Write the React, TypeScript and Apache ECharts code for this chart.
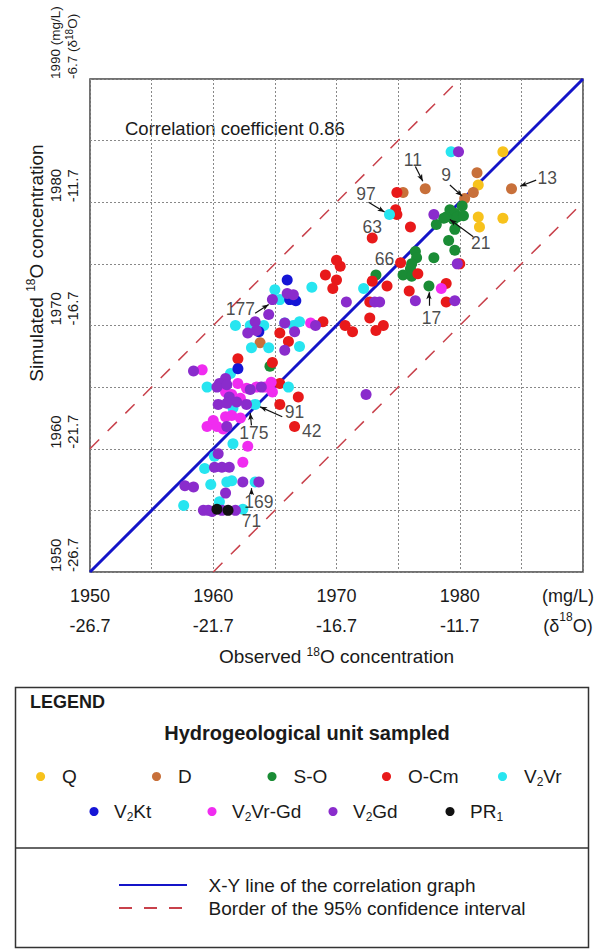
import React, { useEffect, useRef } from 'react';
import * as echarts from 'echarts';

const FONT = "'Liberation Sans', Arial, sans-serif";
const TXT = '#1a1a1a';

// ---------- data ----------
const yearTicks = [1950, 1960, 1970, 1980, 1990];
const deltaTicks = ['-26.7', '-21.7', '-16.7', '-11.7', '-6.7'];

const unitNames = ['Q', 'D', 'S-O', 'O-Cm', 'V2Vr', 'V2Kt', 'V2Vr-Gd', 'V2Gd', 'PR1'];
const unitLegendLabels = [
  '{a|Q}', '{a|D}', '{a|S-O}', '{a|O-Cm}', '{a|V}{sub|2}{a|Vr}',
  '{a|V}{sub|2}{a|Kt}', '{a|V}{sub|2}{a|Vr-Gd}', '{a|V}{sub|2}{a|Gd}', '{a|PR}{sub|1}',
];
const unitColors = ['#f7c21c', '#c8703a', '#1a8c35', '#e8191a', '#27e5f0', '#1515d6', '#f02cf0', '#8a2ccc', '#111111'];

const pointsQ = [[1983.5, 1984.1], [1981.5, 1981.4], [1981.5, 1978.8], [1983.5, 1978.7], [1981.6, 1978.0]];
const pointsD = [[1981.4, 1982.4], [1984.2, 1981.1], [1981.1, 1980.8], [1980.4, 1980.3], [1977.2, 1981.1], [1975.4, 1980.8], [1963.8, 1968.6]];
const pointsSO = [[1979.2, 1979.4], [1979.6, 1979.1], [1978.9, 1978.8], [1979.5, 1978.6], [1978.7, 1978.7], [1978.1, 1978.2], [1979.8, 1978.8], [1980.2, 1979.7], [1980.3, 1978.9], [1979.6, 1977.8], [1979.1, 1976.9], [1979.6, 1976.1], [1976.4, 1976.0], [1976.5, 1975.5], [1976.1, 1975.0], [1976.0, 1974.6], [1977.9, 1975.5], [1975.4, 1974.1], [1976.1, 1974.0], [1973.2, 1974.1], [1977.5, 1973.2], [1964.6, 1966.7]];
const pointsOCm = [[1974.9, 1980.8], [1974.8, 1979.4], [1974.9, 1979.0], [1976.0, 1978.0], [1972.9, 1977.1], [1975.2, 1975.1], [1980.0, 1975.0], [1976.6, 1974.2], [1972.9, 1973.6], [1974.1, 1973.2], [1978.9, 1973.4], [1975.9, 1972.8], [1972.7, 1971.9], [1978.9, 1971.9], [1972.7, 1970.6], [1970.3, 1974.8], [1970.0, 1975.3], [1969.1, 1974.1], [1970.0, 1973.7], [1969.7, 1973.0], [1965.4, 1969.4], [1966.1, 1968.7], [1962.0, 1967.3], [1964.8, 1967.0], [1965.4, 1965.3], [1966.9, 1964.2], [1965.4, 1963.6], [1966.6, 1961.8], [1968.9, 1970.3], [1970.7, 1970.0], [1971.3, 1969.5], [1973.8, 1970.0], [1973.2, 1969.6]];
const pointsV2Vr = [[1979.3, 1984.1], [1974.3, 1979.0], [1972.2, 1973.0], [1968.0, 1973.1], [1965.0, 1972.9], [1965.4, 1972.1], [1961.8, 1970.0], [1963.0, 1970.0], [1964.1, 1970.0], [1965.8, 1970.2], [1966.5, 1970.0], [1967.0, 1970.3], [1963.1, 1968.2], [1964.5, 1968.2], [1967.0, 1968.3], [1961.4, 1966.1], [1959.5, 1965.0], [1966.1, 1965.0], [1961.6, 1963.3], [1963.4, 1963.6], [1961.6, 1960.4], [1960.1, 1959.4], [1959.3, 1958.4], [1959.8, 1957.1], [1961.1, 1957.3], [1961.5, 1957.4], [1963.4, 1957.3], [1960.5, 1955.7], [1957.6, 1955.4], [1962.4, 1955.1]];
const pointsV2Kt = [[1966.0, 1973.7], [1966.2, 1972.1], [1966.7, 1972.0], [1963.7, 1969.5], [1962.0, 1966.5]];
const pointsV2VrGd = [[1978.5, 1973.0], [1967.9, 1970.2], [1959.1, 1966.4], [1962.0, 1965.3], [1962.7, 1964.9], [1963.5, 1965.0], [1964.2, 1965.0], [1964.7, 1965.4], [1961.0, 1964.6], [1961.5, 1964.4], [1962.2, 1964.1], [1964.8, 1964.6], [1961.0, 1962.6], [1961.5, 1962.7], [1962.2, 1962.5], [1960.0, 1962.3], [1959.5, 1961.8], [1960.3, 1961.8], [1960.8, 1961.6], [1962.8, 1960.2], [1962.4, 1958.9]];
const pointsV2Gd = [[1979.9, 1984.1], [1977.9, 1979.0], [1979.8, 1975.0], [1970.8, 1971.9], [1973.1, 1971.9], [1973.5, 1971.9], [1976.4, 1972.0], [1979.6, 1972.0], [1966.0, 1972.6], [1966.5, 1972.5], [1964.8, 1972.1], [1964.5, 1970.9], [1963.4, 1970.3], [1963.5, 1969.6], [1966.6, 1969.5], [1965.8, 1970.2], [1962.8, 1969.4], [1968.3, 1970.0], [1965.8, 1968.0], [1958.4, 1966.3], [1961.0, 1965.7], [1960.5, 1965.3], [1960.3, 1965.0], [1961.1, 1965.2], [1963.0, 1964.8], [1963.9, 1965.0], [1961.3, 1964.2], [1961.9, 1963.8], [1960.4, 1963.6], [1961.1, 1963.7], [1962.7, 1963.6], [1961.1, 1961.8], [1960.4, 1959.6], [1960.1, 1958.5], [1960.7, 1958.5], [1961.3, 1958.5], [1957.7, 1957.0], [1958.4, 1956.9], [1962.4, 1957.3], [1963.7, 1957.3], [1961.0, 1956.4], [1959.2, 1955.0], [1959.6, 1955.0], [1959.9, 1954.9], [1960.7, 1955.0], [1961.8, 1955.0], [1972.4, 1964.4]];
const pointsPR1 = [[1960.3, 1955.1], [1961.2, 1955.0]];

const unitPoints = [pointsQ, pointsD, pointsSO, pointsOCm, pointsV2Vr, pointsV2Kt, pointsV2VrGd, pointsV2Gd, pointsPR1];

const xyLine = [[1950, 1950], [1990, 1990]];
const upperBorder = [[1950, 1960], [1980, 1990]];
const lowerBorder = [[1960, 1950], [1990, 1980]];

const annotationLabels = ['177', '91', '175', '42', '169', '71', '97', '11', '9', '13', '21', '63', '66', '17'];
const annotationAt = [[1962.2, 1971.3], [1966.6, 1963.0], [1963.3, 1961.3], [1968.0, 1961.4], [1963.7, 1955.7], [1963.1, 1954.1], [1972.4, 1980.7], [1976.2, 1983.4], [1978.9, 1982.2], [1987.1, 1982.0], [1981.7, 1976.7], [1972.9, 1978.0], [1973.9, 1975.4], [1977.7, 1970.6]];
const arrowFrom = [[1963.4, 1971.0], [1965.6, 1962.6], [1963.1, 1961.9], [1963.1, 1956.3], [1972.6, 1980.0], [1976.4, 1982.9], [1979.2, 1981.4], [1986.2, 1981.8], [1981.1, 1977.2], [1977.5, 1971.6]];
const arrowTo = [[1964.5, 1971.7], [1963.8, 1963.4], [1963.0, 1962.9], [1963.1, 1956.8], [1973.9, 1979.2], [1977.0, 1981.7], [1980.2, 1980.5], [1984.9, 1981.3], [1979.2, 1978.6], [1977.5, 1972.7]];

const correlationText = 'Correlation coefficient 0.86';
const xyLineName = 'X-Y line of the correlation graph';
const borderName = 'Border of the 95% confidence interval';

// ---------- layout (pixels) ----------
const legendDotX = [40.6, 156.5, 272, 386.5, 502.5, 94, 212, 333, 450];
const legendRowY = [778, 778, 778, 778, 778, 813, 813, 813, 813];

const supRich = (size: number, lh: number, sup = 12) => ({
  a: { fontSize: size, fontFamily: FONT, color: TXT, lineHeight: lh },
  t: { fontSize: 13.5, fontFamily: FONT, color: TXT, lineHeight: lh },
  s: { fontSize: sup, fontFamily: FONT, color: TXT, lineHeight: sup, verticalAlign: 'top' },
});

function xLabel(v: number) {
  const i = yearTicks.indexOf(v);
  if (i < 0 || v === 1990) return '';
  return `${v}\n${deltaTicks[i]}`;
}

function yLabel(v: number) {
  const i = yearTicks.indexOf(v);
  if (i < 0) return '';
  if (v === 1990) return `{t|${v} (mg/L)}\n{t|${deltaTicks[i]} (δ}{s|18}{t|O)}`;
  return `{a|${v}}\n{a|${deltaTicks[i]}}`;
}

export default function App() {
  const ref = useRef<HTMLDivElement>(null);
  useEffect(() => {
    if (!ref.current) return;
    const chart = echarts.init(ref.current, null, { renderer: 'svg' });

    const legendRich = {
      a: { fontSize: 19, fontFamily: FONT, color: TXT, lineHeight: 22 },
      sub: { fontSize: 12, fontFamily: FONT, color: TXT, lineHeight: 12, verticalAlign: 'bottom' },
    };

    const unitLegends = unitNames.map((name, i) => ({
      data: [name],
      left: legendDotX[i] - 4.5,
      top: legendRowY[i] - 11,
      padding: 0,
      itemWidth: 9,
      itemHeight: 9,
      icon: 'circle',
      formatter: () => unitLegendLabels[i],
      textStyle: { padding: [0, 0, 0, i < 5 ? 12 : 10.5], rich: legendRich },
      selectedMode: false,
    }));

    const scatterSeries = unitNames.map((name, i) => ({
      type: 'scatter',
      name,
      data: unitPoints[i],
      symbol: 'circle',
      symbolSize: 11,
      itemStyle: { color: unitColors[i], opacity: 1 },
      z: 3,
      silent: true,
      emphasis: { disabled: true },
    }));

    const option: any = {
      animation: false,
      backgroundColor: '#ffffff',
      textStyle: { fontFamily: FONT },
      grid: {
        left: 90, top: 79, width: 493, height: 493,
        show: true, borderColor: '#444', borderWidth: 1.5,
        containLabel: false, outerBoundsMode: 'none',
      },
      xAxis: {
        type: 'value', min: 1950, max: 1990, interval: 5,
        axisLine: { show: false }, axisTick: { show: false },
        splitLine: { show: true, lineStyle: { color: '#888', type: [2, 2], width: 1 } },
        axisLabel: {
          margin: 9, showMinLabel: true, showMaxLabel: true, formatter: xLabel,
          color: TXT, fontSize: 18, lineHeight: 30, fontFamily: FONT,
        },
        name: '{a|Observed }{s|18}{a|O concentration}',
        nameLocation: 'middle', nameGap: 68,
        nameTextStyle: { rich: supRich(19, 22) },
      },
      yAxis: {
        type: 'value', min: 1950, max: 1990, interval: 5,
        axisLine: { show: false }, axisTick: { show: false },
        splitLine: { show: true, lineStyle: { color: '#888', type: [2, 2], width: 1 } },
        axisLabel: {
          rotate: 90, align: 'left', verticalAlign: 'bottom', margin: 9,
          showMinLabel: true, showMaxLabel: true, formatter: yLabel,
          rich: supRich(15, 17, 10),
        },
      },
      legend: [
        ...unitLegends,
        {
          data: [xyLineName, borderName], orient: 'vertical', left: 118, top: 875, padding: 0,
          itemWidth: 68, itemHeight: 14, itemGap: 3,
          itemStyle: { opacity: 0, borderWidth: 0 },
          textStyle: { fontSize: 19, fontFamily: FONT, color: TXT, lineHeight: 20, padding: [0, 0, 0, 16.6] },
          selectedMode: false,
        },
      ],
      series: [
        {
          type: 'line', name: xyLineName, data: xyLine, symbol: 'none', silent: true, z: 2,
          lineStyle: { color: '#1414c8', width: 3 }, itemStyle: { color: '#1414c8' },
        },
        {
          type: 'line', name: borderName, data: upperBorder, symbol: 'none', silent: true, z: 2,
          lineStyle: { color: '#c8414b', width: 1.5, type: [13, 12] }, itemStyle: { color: '#c8414b' },
        },
        {
          type: 'line', name: borderName, data: lowerBorder, symbol: 'none', silent: true, z: 2,
          lineStyle: { color: '#c8414b', width: 1.5, type: [13, 12] }, itemStyle: { color: '#c8414b' },
        },
        ...scatterSeries,
        {
          type: 'scatter', name: 'annotations', silent: true, z: 5,
          data: annotationAt.map((p, i) => [p[0], p[1], annotationLabels[i]]),
          symbol: 'circle', symbolSize: 0.1, itemStyle: { color: 'transparent' },
          label: {
            show: true, position: 'inside', formatter: (p: any) => p.data[2],
            fontSize: 17.5, fontFamily: FONT, color: TXT,
          },
          emphasis: { disabled: true },
          markLine: {
            silent: true, animation: false,
            symbol: ['none', 'arrow'], symbolSize: [4, 7],
            label: { show: false },
            emphasis: { disabled: true },
            lineStyle: { color: '#111', width: 1.2, type: 'solid' },
            data: arrowFrom.map((f, i) => [{ coord: f }, { coord: arrowTo[i] }]),
          },
        },
      ],
      graphic: [
        {
          type: 'text', x: 125, y: 128, silent: true,
          style: { text: correlationText, fontSize: 18.5, fontFamily: FONT, fill: TXT, align: 'left', verticalAlign: 'middle', textAlign: 'left', textVerticalAlign: 'middle' },
        },
        {
          type: 'text', x: 568, y: 581, silent: true,
          style: {
            text: '{a|(mg/L)}\n{a|(δ}{s|18}{a|O)}', rich: supRich(18, 30), fill: TXT,
            align: 'center', verticalAlign: 'top', textAlign: 'center', textVerticalAlign: 'top',
          },
        },
        {
          type: 'text', x: 36, y: 263, rotation: Math.PI / 2, silent: true,
          style: {
            text: '{a|Simulated }{s|18}{a|O concentration}', rich: supRich(19, 22), fill: TXT,
            align: 'center', verticalAlign: 'middle', textAlign: 'center', textVerticalAlign: 'middle',
          },
        },
        {
          type: 'rect', silent: true,
          shape: { x: 15.5, y: 687.5, width: 573, height: 260 },
          style: { fill: 'none', stroke: '#333', lineWidth: 1.5 },
        },
        {
          type: 'line', silent: true,
          shape: { x1: 15.5, y1: 848, x2: 588.5, y2: 848 },
          style: { stroke: '#333', lineWidth: 1.5 },
        },
        {
          type: 'text', x: 30, y: 702, silent: true,
          style: { text: 'LEGEND', fontSize: 18, fontWeight: 'bold', fontFamily: FONT, fill: TXT, align: 'left', verticalAlign: 'middle', textAlign: 'left', textVerticalAlign: 'middle' },
        },
        {
          type: 'text', x: 307, y: 733, silent: true,
          style: { text: 'Hydrogeological unit sampled', fontSize: 20, fontWeight: 'bold', fontFamily: FONT, fill: TXT, align: 'center', verticalAlign: 'middle', textAlign: 'center', textVerticalAlign: 'middle' },
        },
      ],
    };

    chart.setOption(option);
    return () => chart.dispose();
  }, []);

  return (
    <div
      ref={ref}
      style={{ position: 'absolute', left: 0, top: 0, width: 603, height: 949, background: '#fff' }}
    />
  );
}
